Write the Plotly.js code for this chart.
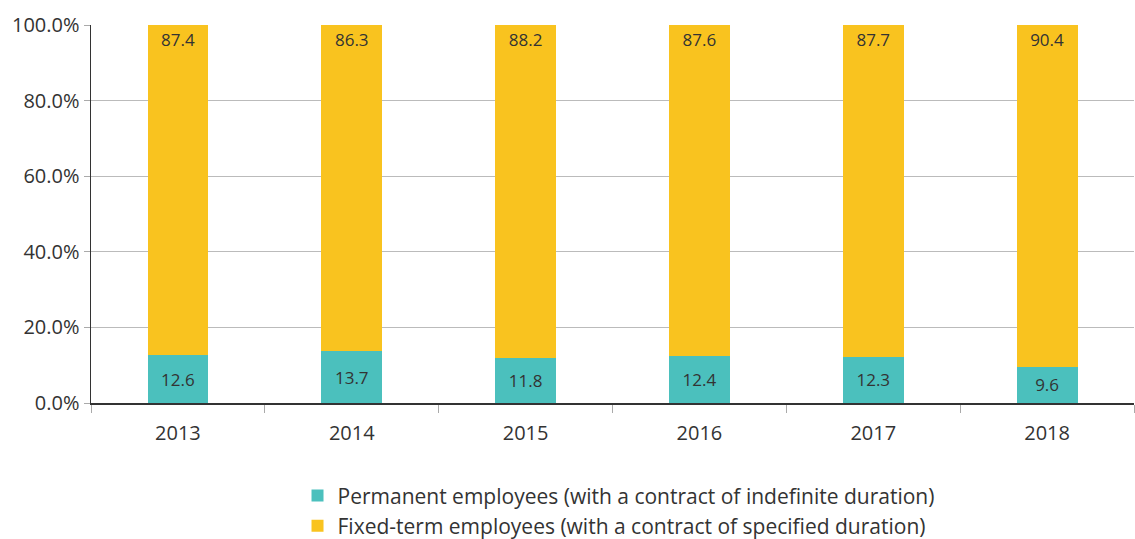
<!DOCTYPE html>
<html>
<head>
<meta charset="utf-8">
<script src="https://cdn.plot.ly/plotly-3.0.1.min.js"></script>
<style>html,body{margin:0;padding:0;background:#fff;}#chart{width:1135px;height:539px;}</style>
</head>
<body>
<div id="chart"></div>
<script>
const years = ["2013", "2014", "2015", "2016", "2017", "2018"];
const permanent = [12.6, 13.7, 11.8, 12.4, 12.3, 9.6];
const fixedTerm = [87.4, 86.3, 88.2, 87.6, 87.7, 90.4];
const yTickVals = [0, 20, 40, 60, 80, 100];
const yTickText = ["0.0%", "20.0%", "40.0%", "60.0%", "80.0%", "100.0%"];
const seriesNames = ["Permanent employees (with a contract of indefinite duration)", "Fixed-term employees (with a contract of specified duration)"];

const font = "Open Sans, Noto Sans, sans-serif";
const traces = [
  {
    type: "bar", name: seriesNames[0], x: years, y: permanent,
    marker: {color: "#4bc0bd"},
    text: permanent.map(v => v.toFixed(1)), textposition: "inside",
    insidetextanchor: "middle",
    textfont: {family: font, size: 17, color: "#333333"},
    hoverinfo: "skip"
  },
  {
    type: "bar", name: seriesNames[1], x: years, y: fixedTerm,
    marker: {color: "#f9c31f"},
    text: fixedTerm.map(v => v.toFixed(1)), textposition: "inside",
    insidetextanchor: "end",
    textfont: {family: font, size: 17, color: "#333333"},
    hoverinfo: "skip"
  }
];
const layout = {
  width: 1135, height: 539,
  margin: {l: 91, r: 1, t: 25, b: 136},
  barmode: "stack",
  bargap: 0.65,
  paper_bgcolor: "#fff", plot_bgcolor: "#fff",
  font: {family: font, size: 17, color: "#333333"},
  xaxis: {
    type: "category", tickson: "boundaries", ticks: "outside", ticklen: 8, tickcolor: "#aaaaaa",
    showline: true, linecolor: "#333333", linewidth: 1.5, showgrid: false,
    tickfont: {family: font, size: 20, color: "#333333"}, ticklabelstandoff: 11
  },
  yaxis: {
    range: [0, 100], tickvals: yTickVals, ticktext: yTickText,
    ticks: "outside", ticklen: 6, tickcolor: "#aaaaaa",
    showline: true, linecolor: "#333333", linewidth: 1.5,
    showgrid: true, gridcolor: "#bbbbbb", gridwidth: 1, zeroline: false,
    tickfont: {family: font, size: 20, color: "#333333"}
  },
  showlegend: true,
  legend: {
    orientation: "v", traceorder: "normal", x: 0.198, xanchor: "left",
    yref: "container", y: 0.118, yanchor: "top",
    font: {family: font, size: 21, color: "#333333"}, itemsizing: "constant", tracegroupgap: 0
  },
  uniformtext: {mode: "show", minsize: 10}
};
Plotly.newPlot("chart", traces, layout, {staticPlot: true});
</script>
</body>
</html>
